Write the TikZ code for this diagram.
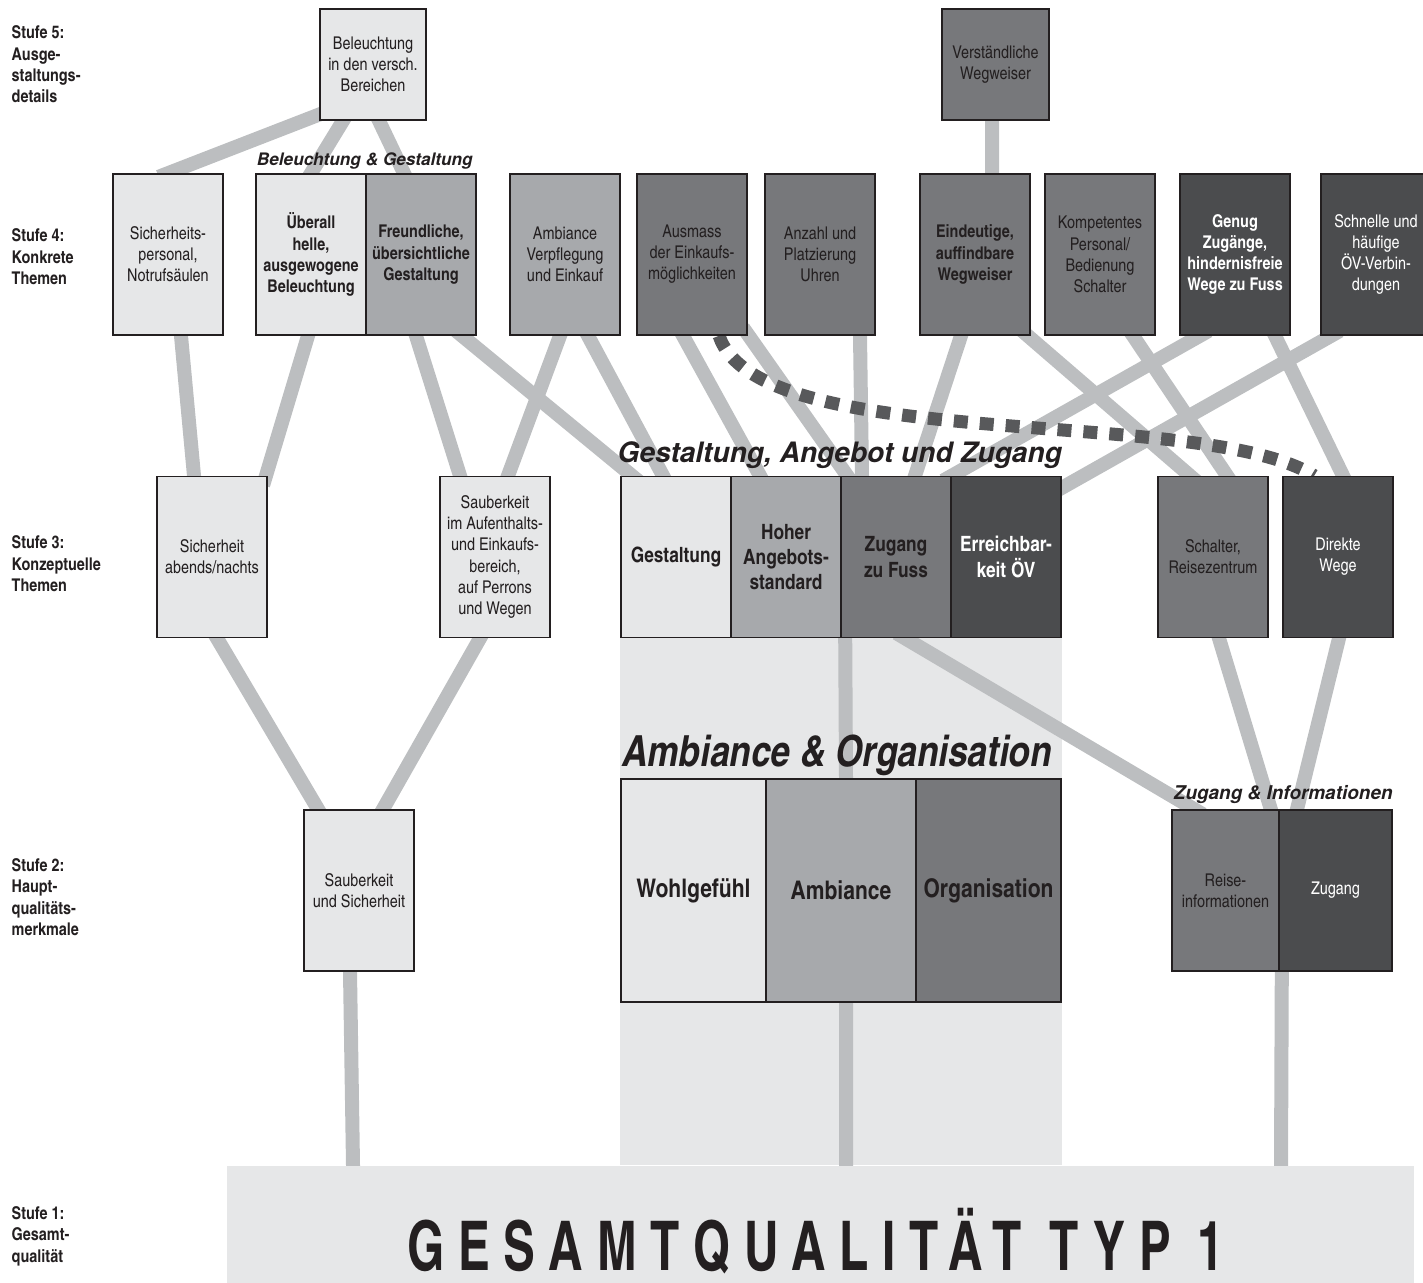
\documentclass[tikz,border=0pt]{standalone}
\usepackage{fontspec}
\setmainfont{TeX Gyre Heros}
\newfontfamily\cnfont{texgyreheroscn}[Extension=.otf,UprightFont=*-regular,BoldFont=*-bold,ItalicFont=*-italic,BoldItalicFont=*-bolditalic]
\newfontfamily\gesamtfont{texgyreheroscn-bold}[Extension=.otf,FakeStretch=0.85,LetterSpace=20]
\usetikzlibrary{calc}

\definecolor{lightbox}{HTML}{E6E7E8}
\definecolor{midbox}{HTML}{A7A9AC}
\definecolor{darkbox}{HTML}{77787B}
\definecolor{deepbox}{HTML}{4B4C4E}
\definecolor{linkgray}{HTML}{BCBEC0}
\definecolor{dashgray}{HTML}{58595B}
\definecolor{edgeline}{HTML}{231F20}

\newcommand{\boxtxt}{\cnfont\fontsize{5}{6}\selectfont}
\newcommand{\celltxt}{\cnfont\bfseries\fontsize{6}{7.2}\selectfont}
\newcommand{\bigcelltxt}{\cnfont\bfseries\fontsize{7.3}{8.8}\selectfont}
\newcommand{\stufetxt}{\cnfont\bfseries\fontsize{5}{6.1}\selectfont}
\newcommand{\gesamttxt}{\gesamtfont\fontsize{19.5}{20}\selectfont}

\pgfdeclarelayer{back}
\pgfdeclarelayer{links}
\pgfsetlayers{back,links,main}

\begin{document}
\begin{tikzpicture}[
     box/.style = {draw=edgeline, line width=0.45pt, rectangle, minimum width=1.1cm, minimum height=1.61cm,
      inner sep=0pt, align=center, font=\boxtxt, text=edgeline},
     lbox/.style = {box, fill=lightbox},
     mbox/.style = {box, fill=midbox},
     dbox/.style = {box, fill=darkbox},
     xbox/.style = {box, fill=deepbox, text=white},
     wide/.style = {minimum height=2.23cm, font=\bigcelltxt},
     link/.style = {draw=linkgray, line width=0.14cm, shorten <=-0.1cm, shorten >=-0.1cm},
     dots/.style = {draw=dashgray, line width=0.13cm, dash pattern=on 0.14cm off 0.12cm},
     stufe/.style = {anchor=west, align=left, inner sep=0pt, font=\stufetxt, text=edgeline},
     grouptitle/.style = {anchor=base, inner sep=0pt, text=edgeline}
    ]
    \useasboundingbox (0,0) rectangle (14.23,-12.83);

    % Stufe 5
    \node [lbox, minimum width=1.06cm, minimum height=1.11cm] (bel5) at (3.73,-0.645) {Beleuchtung\\in den versch.\\Bereichen};
    \node [dbox, minimum width=1.07cm, minimum height=1.11cm] (weg5) at (9.955,-0.645) {Verständliche\\Wegweiser};

    % Stufe 4
    \node [lbox] (sich4) at (1.68,-2.545) {Sicherheits-\\personal,\\Notrufsäulen};
    \node [lbox, right of=sich4, node distance=1.43cm, font=\boxtxt\bfseries] (hell4) {Überall\\helle,\\ausgewogene\\Beleuchtung};
    \node [mbox, right of=hell4, node distance=1.1cm, font=\boxtxt\bfseries] (freund4) {Freundliche,\\übersichtliche\\Gestaltung};
    \node [mbox, right of=freund4, node distance=1.44cm] (ambv4) {Ambiance\\Verpflegung\\und Einkauf};
    \node [dbox, right of=ambv4, node distance=1.27cm] (ausm4) {Ausmass\\der Einkaufs-\\möglichkeiten};
    \node [dbox, right of=ausm4, node distance=1.28cm] (uhr4) {Anzahl und\\Platzierung\\Uhren};
    \node [dbox, right of=uhr4, node distance=1.55cm, font=\boxtxt\bfseries] (eind4) {Eindeutige,\\auffindbare\\Wegweiser};
    \node [dbox, right of=eind4, node distance=1.25cm] (komp4) {Kompetentes\\Personal/\\Bedienung\\Schalter};
    \node [xbox, right of=komp4, node distance=1.35cm, font=\boxtxt\bfseries] (genug4) {Genug\\Zugänge,\\hindernisfreie\\Wege zu Fuss};
    \node [xbox, right of=genug4, node distance=1.41cm] (schnell4) {Schnelle und\\häufige\\ÖV-Verbin-\\dungen};

    % Stufe 3
    \node [lbox] (sichab3) at (2.12,-5.57) {Sicherheit\\abends/nachts};
    \node [lbox, right of=sichab3, node distance=2.83cm] (saub3) {Sauberkeit\\im Aufenthalts-\\und Einkaufs-\\bereich,\\auf Perrons\\und Wegen};
    \node [lbox, right of=saub3, node distance=1.81cm, font=\celltxt] (gest3) {Gestaltung};
    \node [mbox, right of=gest3, node distance=1.1cm, font=\celltxt] (hoher3) {Hoher\\Angebots-\\standard};
    \node [dbox, right of=hoher3, node distance=1.1cm, font=\celltxt] (zugf3) {Zugang\\zu Fuss};
    \node [xbox, right of=zugf3, node distance=1.1cm, font=\celltxt] (erreich3) {Erreichbar-\\keit ÖV};
    \node [dbox, right of=erreich3, node distance=2.07cm] (schalt3) {Schalter,\\Reisezentrum};
    \node [xbox, right of=schalt3, node distance=1.25cm] (direkt3) {Direkte\\Wege};

    % Stufe 2
    \node [lbox] (saubsich2) at (3.59,-8.905) {Sauberkeit\\und Sicherheit};
    \node [lbox, wide, minimum width=1.45cm] (wohl2) at (6.935,-8.905) {Wohlgefühl};
    \node [mbox, wide, minimum width=1.5cm, right of=wohl2, node distance=1.475cm] (amb2) {Ambiance};
    \node [dbox, wide, minimum width=1.45cm, right of=amb2, node distance=1.475cm] (org2) {Organisation};
    \node [dbox, minimum width=1.07cm, right of=org2, node distance=2.37cm] (reise2) {Reise-\\informationen};
    \node [xbox, minimum width=1.13cm, right of=reise2, node distance=1.1cm] (zug2) {Zugang};

    % Stufe 1
    \node [fill=lightbox, anchor=north west, inner sep=0pt, minimum width=11.87cm, minimum height=1.3cm] (gesamt) at (2.26,-11.65) {};
    \node [inner sep=0pt, font=\gesamttxt, text=edgeline] (gtext) at (8.16,-12.41) {GESAMTQUALITÄT TYP 1};

    % Stufen
    \node [stufe] (st5) at (0.11,-0.645) {Stufe 5:\\Ausge-\\staltungs-\\details};
    \node [stufe] (st4) at (0.11,-2.57) {Stufe 4:\\Konkrete\\Themen};
    \node [stufe] (st3) at (0.11,-5.64) {Stufe 3:\\Konzeptuelle\\Themen};
    \node [stufe] (st2) at (0.11,-8.97) {Stufe 2:\\Haupt-\\qualitäts-\\merkmale};
    \node [stufe] (st1) at (0.11,-12.36) {Stufe 1:\\Gesamt-\\qualität};

    % group titles
    \node [grouptitle, font=\bfseries\itshape\fontsize{4.9}{6}\selectfont] (tbel) at ($(hell4.north east)+(-0.02,0.08)$) {Beleuchtung \& Gestaltung};
    \node [grouptitle, font=\bfseries\itshape\fontsize{8}{9}\selectfont] (tgest) at ($(hoher3.north east)+(-0.02,0.13)$) {Gestaltung, Angebot und Zugang};
    \node [grouptitle, font=\cnfont\bfseries\itshape\fontsize{12.2}{14}\selectfont] (tamb) at ($(amb2.north)+(-0.04,0.12)$) {Ambiance \& Organisation};
    \node [grouptitle, font=\bfseries\itshape\fontsize{5.4}{6.5}\selectfont] (tzug) at ($(reise2.north east)+(0.035,0.1)$) {Zugang \& Informationen};

    \begin{pgfonlayer}{back}
    \fill[lightbox] (gest3.south west) rectangle (erreich3.south east |- gesamt.north);
    \end{pgfonlayer}

    \begin{pgfonlayer}{links}
    \draw[link] (sich4.north) -- ($(bel5.south west)+(0.2,0.14)$);
    \draw[link] (hell4.north) -- ($(bel5.south)+(-0.3,0)$);
    \draw[link] ($(freund4.north)+(-0.17,0)$) -- ($(bel5.south)+(0.06,0)$);
    \draw[link] ($(eind4.north)+(0.17,0)$) -- ($(weg5.south)+(-0.035,0)$);

    \draw[link] ($(sich4.south)+(0.13,0)$) -- ($(sichab3.north)+(-0.18,0)$);
    \draw[link] ($(hell4.south)+(-0.03,0)$) -- ($(sichab3.north)+(0.54,0)$);
    \draw[link] ($(freund4.south)+(-0.05,0)$) -- ($(saub3.north)+(-0.35,0)$);
    \draw[link] ($(freund4.south)+(0.41,0)$) -- ($(gest3.north)+(-0.44,0)$);
    \draw[link] ($(ambv4.south)+(-0.05,0)$) -- ($(saub3.north)+(0.13,0)$);
    \draw[link] ($(ambv4.south)+(0.23,0)$) -- ($(gest3.north)+(-0.13,0)$);
    \draw[link] ($(ausm4.south)+(-0.09,0)$) -- ($(hoher3.north)+(-0.26,0)$);
    \draw[link] ($(ausm4.south east)+(0.01,0)$) -- ($(zugf3.north west)+(0.07,0)$);
    \draw[link] ($(uhr4.south)+(0.4,0)$) -- ($(zugf3.north)+(-0.34,0)$);
    \draw[link] ($(eind4.south)+(-0.14,0)$) -- ($(zugf3.north)+(0.19,0)$);
    \draw[link] ($(eind4.south east)+(-0.03,0)$) -- ($(schalt3.north)+(-0.23,0)$);
    \draw[link] ($(komp4.south)+(0.33,0)$) -- ($(schalt3.north)+(0.14,0)$);
    \draw[link] ($(genug4.south)+(-0.35,0)$) -- (zugf3.north east);
    \draw[link] ($(schnell4.south west)+(0.11,0)$) -- ($(erreich3.north east)+(-0.21,-0.24)$);
    \draw[link] ($(genug4.south)+(0.4,0)$) -- ($(direkt3.north)+(0.05,0)$);

    \draw[link] ($(sichab3.south)+(0.05,0)$) -- ($(saubsich2.north)+(-0.41,0)$);
    \draw[link] ($(saub3.south)+(-0.15,0)$) -- ($(saubsich2.north)+(0.24,0)$);
    \draw[link] ($(zugf3.south west)+(0.05,0)$) -- ($(amb2.north)+(0.05,0)$);
    \draw[link] ($(zugf3.south)+(0.09,0)$) -- ($(reise2.north west)+(0.23,0)$);
    \draw[link] ($(schalt3.south)+(0.06,0)$) -- ($(reise2.north east)+(-0.09,0)$);
    \draw[link] ($(direkt3.south)+(0.01,0)$) -- ($(zug2.north)+(-0.385,0)$);

    \draw[link] ($(saubsich2.south)+(-0.09,0)$) -- ($(gesamt.north west)+(1.27,0)$);
    \draw[link] ($(amb2.south)+(0.05,0)$) -- ($(gesamt.north west)+(6.2,0)$);
    \draw[link] ($(reise2.south east)+(0.02,0)$) -- ($(gesamt.north west)+(10.55,0)$);

    \draw[dots] ($(ausm4.south)+(0.27,0)$) .. controls +(0.41,-1.2) and +(-1.15,0.71) .. ($(direkt3.north west)+(0.32,0)$);
    \end{pgfonlayer}

\end{tikzpicture}
\end{document}
